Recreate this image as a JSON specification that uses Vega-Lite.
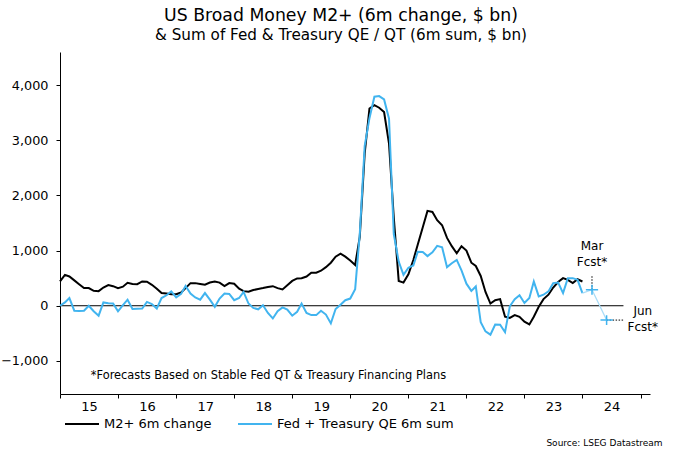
{
  "$schema": "https://vega.github.io/schema/vega-lite/v6.json",
  "width": 590,
  "height": 342,
  "autosize": {"type": "none"},
  "padding": {"left": 60, "top": 52, "right": 30, "bottom": 59},
  "background": "white",
  "config": {
    "view": {"stroke": null},
    "font": "DejaVu Sans",
    "text": {"font": "DejaVu Sans", "color": "black"}
  },
  "title": {
    "text": "US Broad Money M2+ (6m change, $ bn)",
    "subtitle": "& Sum of Fed & Treasury QE / QT (6m sum, $ bn)",
    "font": "DejaVu Sans",
    "subtitleFont": "DejaVu Sans",
    "fontSize": 17.3,
    "subtitleFontSize": 15.2,
    "fontWeight": "normal",
    "color": "black",
    "subtitleColor": "black",
    "anchor": "middle",
    "dx": -14,
    "offset": 9,
    "subtitlePadding": 4
  },
  "datasets": {
    "series": [
      {"d": "2015-01-01", "m2": 440, "qe": 0},
      {"d": "2015-02-01", "m2": 560, "qe": 60},
      {"d": "2015-03-01", "m2": 530, "qe": 140},
      {"d": "2015-04-01", "m2": 460, "qe": -90},
      {"d": "2015-05-01", "m2": 390, "qe": -95},
      {"d": "2015-06-01", "m2": 320, "qe": -90},
      {"d": "2015-07-01", "m2": 320, "qe": 0},
      {"d": "2015-08-01", "m2": 270, "qe": -100},
      {"d": "2015-09-01", "m2": 265, "qe": -180},
      {"d": "2015-10-01", "m2": 330, "qe": 60},
      {"d": "2015-11-01", "m2": 375, "qe": 45},
      {"d": "2015-12-01", "m2": 355, "qe": 40},
      {"d": "2016-01-01", "m2": 320, "qe": -100},
      {"d": "2016-02-01", "m2": 345, "qe": 10},
      {"d": "2016-03-01", "m2": 415, "qe": 110},
      {"d": "2016-04-01", "m2": 395, "qe": -60},
      {"d": "2016-05-01", "m2": 390, "qe": -55},
      {"d": "2016-06-01", "m2": 440, "qe": -50},
      {"d": "2016-07-01", "m2": 435, "qe": 70},
      {"d": "2016-08-01", "m2": 380, "qe": 30},
      {"d": "2016-09-01", "m2": 310, "qe": -50},
      {"d": "2016-10-01", "m2": 230, "qe": 140},
      {"d": "2016-11-01", "m2": 220, "qe": 190},
      {"d": "2016-12-01", "m2": 210, "qe": 260},
      {"d": "2017-01-01", "m2": 210, "qe": 150},
      {"d": "2017-02-01", "m2": 240, "qe": 215},
      {"d": "2017-03-01", "m2": 320, "qe": 360},
      {"d": "2017-04-01", "m2": 410, "qe": 220},
      {"d": "2017-05-01", "m2": 410, "qe": 150},
      {"d": "2017-06-01", "m2": 395, "qe": 110},
      {"d": "2017-07-01", "m2": 380, "qe": 230},
      {"d": "2017-08-01", "m2": 420, "qe": 110},
      {"d": "2017-09-01", "m2": 440, "qe": -20},
      {"d": "2017-10-01", "m2": 420, "qe": 130},
      {"d": "2017-11-01", "m2": 355, "qe": 220},
      {"d": "2017-12-01", "m2": 410, "qe": 215},
      {"d": "2018-01-01", "m2": 400, "qe": 100},
      {"d": "2018-02-01", "m2": 310, "qe": 140},
      {"d": "2018-03-01", "m2": 265, "qe": 250},
      {"d": "2018-04-01", "m2": 255, "qe": 40},
      {"d": "2018-05-01", "m2": 285, "qe": -40},
      {"d": "2018-06-01", "m2": 305, "qe": -65},
      {"d": "2018-07-01", "m2": 320, "qe": 10},
      {"d": "2018-08-01", "m2": 340, "qe": -130},
      {"d": "2018-09-01", "m2": 355, "qe": -230},
      {"d": "2018-10-01", "m2": 320, "qe": -100},
      {"d": "2018-11-01", "m2": 295, "qe": -30},
      {"d": "2018-12-01", "m2": 370, "qe": -70},
      {"d": "2019-01-01", "m2": 450, "qe": -180},
      {"d": "2019-02-01", "m2": 495, "qe": -110},
      {"d": "2019-03-01", "m2": 500, "qe": 40},
      {"d": "2019-04-01", "m2": 530, "qe": -130},
      {"d": "2019-05-01", "m2": 600, "qe": -170},
      {"d": "2019-06-01", "m2": 600, "qe": -170},
      {"d": "2019-07-01", "m2": 635, "qe": -90},
      {"d": "2019-08-01", "m2": 700, "qe": -160},
      {"d": "2019-09-01", "m2": 780, "qe": -320},
      {"d": "2019-10-01", "m2": 890, "qe": -60},
      {"d": "2019-11-01", "m2": 945, "qe": 20},
      {"d": "2019-12-01", "m2": 890, "qe": 100},
      {"d": "2020-01-01", "m2": 820, "qe": 130},
      {"d": "2020-02-01", "m2": 740, "qe": 300},
      {"d": "2020-03-01", "m2": 1250, "qe": 1300},
      {"d": "2020-04-01", "m2": 2760, "qe": 2900},
      {"d": "2020-05-01", "m2": 3575, "qe": 3400},
      {"d": "2020-06-01", "m2": 3635, "qe": 3790},
      {"d": "2020-07-01", "m2": 3590, "qe": 3800},
      {"d": "2020-08-01", "m2": 3510, "qe": 3740},
      {"d": "2020-09-01", "m2": 2940, "qe": 3390},
      {"d": "2020-10-01", "m2": 1600, "qe": 1300},
      {"d": "2020-11-01", "m2": 450, "qe": 800},
      {"d": "2020-12-01", "m2": 420, "qe": 560},
      {"d": "2021-01-01", "m2": 570, "qe": 690},
      {"d": "2021-02-01", "m2": 830, "qe": 730},
      {"d": "2021-03-01", "m2": 1110, "qe": 980},
      {"d": "2021-04-01", "m2": 1420, "qe": 975},
      {"d": "2021-05-01", "m2": 1720, "qe": 900},
      {"d": "2021-06-01", "m2": 1700, "qe": 970},
      {"d": "2021-07-01", "m2": 1550, "qe": 1085},
      {"d": "2021-08-01", "m2": 1460, "qe": 1060},
      {"d": "2021-09-01", "m2": 1230, "qe": 700},
      {"d": "2021-10-01", "m2": 1080, "qe": 770},
      {"d": "2021-11-01", "m2": 950, "qe": 830},
      {"d": "2021-12-01", "m2": 1080, "qe": 640},
      {"d": "2022-01-01", "m2": 1000, "qe": 400},
      {"d": "2022-02-01", "m2": 780, "qe": 270},
      {"d": "2022-03-01", "m2": 720, "qe": 350},
      {"d": "2022-04-01", "m2": 540, "qe": -300},
      {"d": "2022-05-01", "m2": 250, "qe": -465},
      {"d": "2022-06-01", "m2": 40, "qe": -525},
      {"d": "2022-07-01", "m2": 100, "qe": -340},
      {"d": "2022-08-01", "m2": 120, "qe": -345},
      {"d": "2022-09-01", "m2": -200, "qe": -480},
      {"d": "2022-10-01", "m2": -220, "qe": -10},
      {"d": "2022-11-01", "m2": -170, "qe": 120},
      {"d": "2022-12-01", "m2": -200, "qe": 190},
      {"d": "2023-01-01", "m2": -290, "qe": 50},
      {"d": "2023-02-01", "m2": -340, "qe": 140},
      {"d": "2023-03-01", "m2": -200, "qe": 440},
      {"d": "2023-04-01", "m2": -20, "qe": 170},
      {"d": "2023-05-01", "m2": 120, "qe": 200},
      {"d": "2023-06-01", "m2": 200, "qe": 260},
      {"d": "2023-07-01", "m2": 330, "qe": 410},
      {"d": "2023-08-01", "m2": 430, "qe": 420},
      {"d": "2023-09-01", "m2": 500, "qe": 230},
      {"d": "2023-10-01", "m2": 470, "qe": 500},
      {"d": "2023-11-01", "m2": 410, "qe": 500},
      {"d": "2023-12-01", "m2": 480, "qe": 470},
      {"d": "2024-01-01", "m2": 440, "qe": 230}
    ],
    "forecast": [
      {"d": "2024-01-01", "v": 230},
      {"d": "2024-03-01", "v": 290},
      {"d": "2024-06-01", "v": -260}
    ],
    "fpoints": [
      {"d": "2024-03-01", "v": 290},
      {"d": "2024-06-01", "v": -260}
    ],
    "vrange": [
      {"d": "2024-03-01", "v": 290, "v2": 560}
    ],
    "hrange": [
      {"d": "2024-06-01", "d2": "2024-09-15", "v": -260}
    ],
    "zero": [
      {"d": "2015-01-01", "d2": "2024-09-15", "v": 0}
    ],
    "notes": [
      {"d": "2024-03-01", "v": 1090, "t": "Mar\nFcst*"},
      {"d": "2025-01-15", "v": -95, "t": "Jun\nFcst*"}
    ],
    "foot": [
      {"d": "2015-07-14", "v": -1270, "t": "*Forecasts Based on Stable Fed QT & Treasury Financing Plans"}
    ]
  },
  "layer": [
    {
      "data": {"name": "zero"},
      "mark": {"type": "rule", "color": "black", "strokeWidth": 1},
      "encoding": {
        "x": {"field": "d", "type": "temporal"},
        "x2": {"field": "d2"},
        "y": {"field": "v", "type": "quantitative"}
      }
    },
    {
      "data": {"name": "series"},
      "transform": [{"fold": ["m2", "qe"], "as": ["s", "val"]}],
      "mark": {"type": "line", "strokeWidth": 2, "strokeJoin": "miter"},
      "encoding": {
        "x": {
          "field": "d",
          "type": "temporal",
          "scale": {"domain": ["2015-01-01", "2025-03-01"]},
          "axis": {
            "tickCount": {"interval": "year", "step": 1},
            "labelExpr": "year(datum.value) >= 2025 ? '' : timeFormat(datum.value, '%y')",
            "labelOffset": 29,
            "labelAlign": "center",
            "labelFont": "DejaVu Sans",
            "labelFontSize": 13,
            "labelColor": "black",
            "labelPadding": 2,
            "labelFlush": false,
            "labelOverlap": false,
            "grid": false,
            "domainColor": "black",
            "tickColor": "black",
            "tickSize": 4,
            "title": "Source: LSEG Datastream",
            "titleFont": "DejaVu Sans",
            "titleFontSize": 9,
            "titleFontWeight": "normal",
            "titleColor": "black",
            "titleX": 602,
            "titleY": 48,
            "titleAlign": "right",
            "titleBaseline": "middle",
            "titleAnchor": "end"
          }
        },
        "y": {
          "field": "val",
          "type": "quantitative",
          "scale": {"domain": [-1600, 4600], "nice": false},
          "axis": {
            "values": [-1000, 0, 1000, 2000, 3000, 4000],
            "format": ",.0f",
            "labelFont": "DejaVu Sans",
            "labelFontSize": 12.8,
            "labelColor": "black",
            "labelPadding": 8,
            "grid": false,
            "domainColor": "black",
            "tickColor": "black",
            "tickSize": 4,
            "title": null
          }
        },
        "color": {
          "field": "s",
          "type": "nominal",
          "scale": {"domain": ["m2", "qe"], "range": ["#000000", "#41b4ef"]},
          "legend": {
            "orient": "none",
            "legendX": 4,
            "legendY": 354,
            "direction": "horizontal",
            "title": null,
            "symbolType": "stroke",
            "symbolSize": 1156,
            "symbolStrokeWidth": 2,
            "labelFont": "DejaVu Sans",
            "labelFontSize": 13,
            "labelColor": "black",
            "labelOffset": 4,
            "labelLimit": 400,
            "columnPadding": 22,
            "labelExpr": "datum.label == 'm2' ? 'M2+ 6m change' : 'Fed + Treasury QE 6m sum'"
          }
        }
      }
    },
    {
      "data": {"name": "forecast"},
      "mark": {"type": "line", "color": "#a9dcf7", "strokeWidth": 1.3},
      "encoding": {
        "x": {"field": "d", "type": "temporal"},
        "y": {"field": "v", "type": "quantitative"}
      }
    },
    {
      "data": {"name": "vrange"},
      "mark": {"type": "rule", "color": "black", "strokeWidth": 1, "strokeDash": [1.5, 1.5]},
      "encoding": {
        "x": {"field": "d", "type": "temporal"},
        "y": {"field": "v", "type": "quantitative"},
        "y2": {"field": "v2"}
      }
    },
    {
      "data": {"name": "hrange"},
      "mark": {"type": "rule", "color": "black", "strokeWidth": 1, "strokeDash": [1.5, 1.5]},
      "encoding": {
        "x": {"field": "d", "type": "temporal"},
        "x2": {"field": "d2"},
        "y": {"field": "v", "type": "quantitative"}
      }
    },
    {
      "data": {"name": "fpoints"},
      "mark": {"type": "point", "shape": "M-1,0H1M0,-0.8V0.8", "filled": false, "color": "#41b4ef", "strokeWidth": 1.5, "size": 150, "opacity": 1},
      "encoding": {
        "x": {"field": "d", "type": "temporal"},
        "y": {"field": "v", "type": "quantitative"}
      }
    },
    {
      "data": {"name": "notes"},
      "mark": {"type": "text", "align": "center", "baseline": "middle", "fontSize": 12, "lineHeight": 16, "lineBreak": "\n", "color": "black"},
      "encoding": {
        "x": {"field": "d", "type": "temporal"},
        "y": {"field": "v", "type": "quantitative"},
        "text": {"field": "t"}
      }
    },
    {
      "data": {"name": "foot"},
      "mark": {"type": "text", "align": "left", "baseline": "middle", "fontSize": 11.4, "color": "black"},
      "encoding": {
        "x": {"field": "d", "type": "temporal"},
        "y": {"field": "v", "type": "quantitative"},
        "text": {"field": "t"}
      }
    }
  ]
}
